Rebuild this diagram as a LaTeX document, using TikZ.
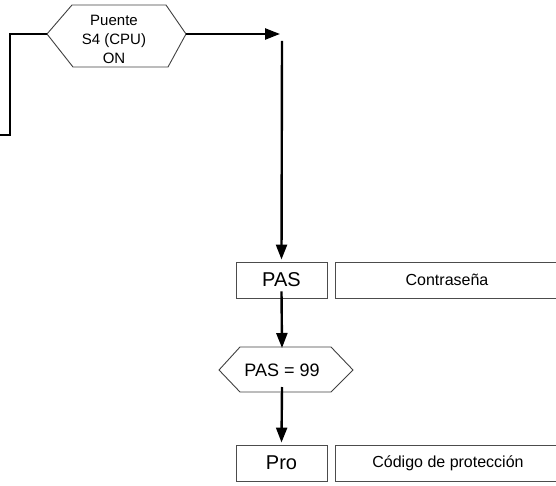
\documentclass[tikz,border=0pt]{standalone}
\usepackage{fontspec}
\setmainfont{Liberation Sans}
\usetikzlibrary{arrows.meta}
\begin{document}
\begin{tikzpicture}[x=1pt,y=-1pt,
  flow/.style={line width=2.4pt,black},
  flowarrow/.style={flow,-{Triangle[length=15pt,width=11pt]}},
  boxline/.style={draw=black!70,line width=0.9pt},
  hexline/.style={draw=black!75,line width=0.9pt}]
\useasboundingbox (0,0) rectangle (556,486);
% top hexagon
\coordinate (h1w) at (47,34);
\coordinate (h1e) at (186,34);
\draw[hexline] (h1w) -- (72,5) -- (166,5) -- (h1e) -- (168,67) -- (73,67) -- cycle;
\node[align=center,font=\fontsize{15}{19}\selectfont,inner sep=0pt] (h1) at (114,39.5) {Puente\\S4 (CPU)\\ON};
% left connector
\coordinate (l1) at (10,34);
\coordinate (l2) at (10,135);
\coordinate (l3) at (0,135);
\draw[flow] (h1w) -- (l1) -- (l2) -- (l3);
% right arrow
\coordinate (r1) at (280,34);
\draw[flowarrow] (h1e) -- (r1);
% PAS row
\node[boxline,minimum width=91pt,minimum height=36pt,inner sep=0pt,font=\fontsize{20}{24}\selectfont] (pas) at (281.5,280) {PAS};
\draw[boxline] (335,262) rectangle (560,298);
\node[font=\fontsize{16}{19}\selectfont] (con) at (447,280) {Contraseña};
\coordinate (v1) at (282,41);
\draw[flowarrow] (v1) -- ([yshift=2pt]pas.north);
% hexagon 2
\coordinate (h2w) at (219,370);
\coordinate (h2e) at (353,370);
\coordinate (h2n) at (282,347);
\coordinate (h2s) at (282,392);
\draw[hexline] (h2w) -- (240,347) -- (331,347) -- (h2e) -- (331,392) -- (240,392) -- cycle;
\node[font=\fontsize{18}{22}\selectfont,inner sep=0pt] (h2) at (282,370) {PAS = 99};
\draw[flowarrow] ([yshift=7pt]pas.south) -- ([yshift=-1pt]h2n);
% Pro row
\node[boxline,minimum width=91pt,minimum height=36pt,inner sep=0pt,font=\fontsize{20}{24}\selectfont] (pro) at (281.5,463) {Pro};
\draw[boxline] (335,445) rectangle (560,481);
\node[font=\fontsize{16}{19}\selectfont] (cod) at (448,463) {Código de protección};
\draw[flowarrow] ([yshift=5pt]h2s) -- ([yshift=2pt]pro.north);
\end{tikzpicture}
\end{document}
